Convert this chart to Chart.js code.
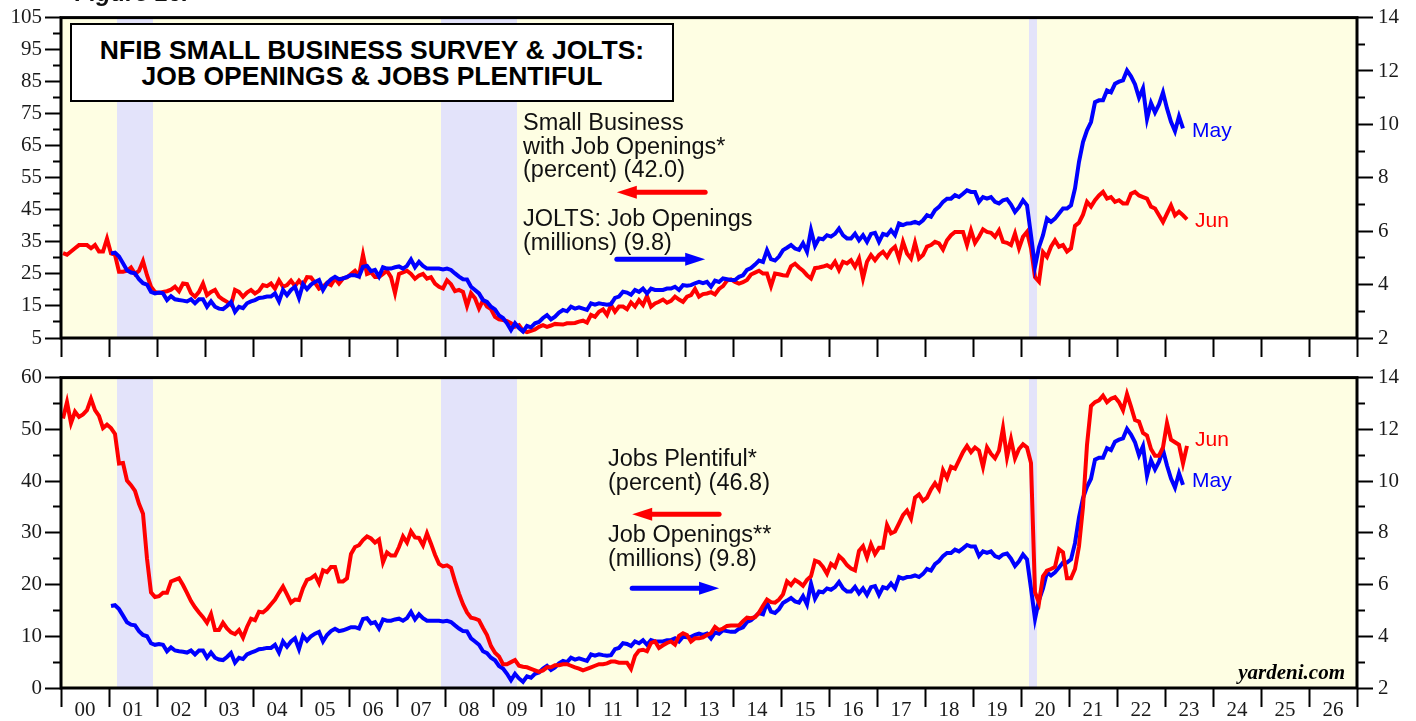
<!DOCTYPE html>
<html>
<head>
<meta charset="utf-8">
<script src="https://cdn.jsdelivr.net/npm/chart.js@4.4.0/dist/chart.umd.min.js"></script>
<style>
  body { margin: 0; background: #fff; width: 1416px; height: 721px; position: relative; overflow: hidden;
         font-family: "Liberation Sans", Arial, sans-serif; }
  canvas { position: absolute; left: 0; }
  #topChart { top: 0; }
  #bottomChart { top: 360px; }
  .txt { position: absolute; white-space: nowrap; }
  .note { font-size: 23.5px; line-height: 23.5px; color: #111; }
  .end { font-size: 21px; line-height: 21px; }
  #fig { left: 75px; top: -19px; font-size: 24px; line-height: 24px; font-weight: bold; font-style: italic; color: #111; }
  #title { left: 70px; top: 23px; width: 604px; height: 79px; box-sizing: border-box; border: 2px solid #000;
           background: #fff; text-align: center; font-weight: bold; font-size: 26.5px; line-height: 26px;
           padding-top: 12px; color: #000; }
  #src { right: 71px; top: 662px; font-family: "Liberation Serif", "Times New Roman", serif; font-weight: bold;
         font-style: italic; font-size: 21px; line-height: 21px; color: #000; }
</style>
</head>
<body>
<canvas id="topChart" width="1416" height="360"></canvas>
<canvas id="bottomChart" width="1416" height="361"></canvas>

<div class="txt" id="fig">Figure 16.</div>
<div class="txt" id="title">NFIB SMALL BUSINESS SURVEY &amp; JOLTS:<br>JOB OPENINGS &amp; JOBS PLENTIFUL</div>
<div class="txt note" style="left:523px; top:111px;">Small Business<br>with Job Openings*<br>(percent) (42.0)</div>
<div class="txt note" style="left:523px; top:207px;">JOLTS: Job Openings<br>(millions) (9.8)</div>
<div class="txt note" style="left:608px; top:447px;">Jobs Plentiful*<br>(percent) (46.8)</div>
<div class="txt note" style="left:608px; top:523px;">Job Openings**<br>(millions) (9.8)</div>
<div class="txt end" style="left:1192px; top:119px; color:#0000ff;">May</div>
<div class="txt end" style="left:1195px; top:209px; color:#ff0000;">Jun</div>
<div class="txt end" style="left:1195px; top:428px; color:#ff0000;">Jun</div>
<div class="txt end" style="left:1192px; top:469px; color:#0000ff;">May</div>
<div class="txt" id="src">yardeni.com</div>

<script>
// monthly, Jan 2000 - Jun 2023 (percent)
const nfibOpenings = [
  31.5, 31, 32, 33, 34, 34, 34, 33, 34, 32, 32, 36,
  31.4, 31, 25.7, 25.7, 26, 27, 25, 26, 29, 24.6, 21, 19.4,
  19.1, 19.4, 19.6, 20.1, 21, 19.6, 22, 21.8, 19, 17.9, 19.4, 22,
  18.4, 19.4, 20, 17.9, 17, 16.3, 15.3, 20, 19.4, 17.9, 19.2, 20,
  18.9, 19.7, 21.5, 21.2, 22, 20.4, 23, 21, 21.5, 22.9, 21.2, 22.9,
  21.5, 24, 23.9, 22.2, 20.4, 21, 22.2, 21.5, 23.6, 22, 23.6, 23.9,
  25, 26, 24.5, 31, 25, 25.5, 24, 24, 25, 26, 24, 19,
  25, 25.5, 26, 25, 23.5, 24.5, 25, 23.5, 24, 22, 21, 20.5,
  23, 21.8, 19.6, 20, 19.4, 15, 19, 17.4, 14.2, 16.8, 14.8, 14,
  11.6, 10.8, 10.6, 10.3, 9.6, 8.5, 9, 7.3, 6.8, 7.2, 7.7, 8.5,
  9, 8.5, 8.9, 9.4, 9.3, 9.2, 9.6, 9.6, 9.7, 10.1, 10.4, 9.8,
  12.2, 11.6, 13.2, 13.9, 12.2, 15.3, 13.2, 14.8, 14.8, 14, 16.1, 14.8,
  16.8, 15.3, 18.1, 14.8, 15.8, 16.3, 17, 16, 16.6, 17.9, 17, 16.3,
  17.9, 18.4, 20.3, 17.9, 18.7, 18.9, 19.3, 18.6, 20.3, 21.2, 22.9, 23.3,
  22.5, 22, 22.4, 23.1, 24.8, 25.4, 26, 25.1, 25.1, 21.2, 25.1, 24.9,
  24.6, 24.5, 27.4, 28.2, 27, 26, 24.6, 23.6, 26.8, 27, 27.3, 27.7,
  27, 28.8, 26.2, 28.8, 28.3, 29.3, 27.2, 29.8, 23.6, 28.8, 30.9, 29.3,
  30.9, 31.9, 30.3, 32.4, 33.5, 29.8, 35, 31.4, 29.8, 34.7, 29.8, 30.9,
  33.5, 34, 35, 34.5, 32.6, 35.5, 37.1, 38.1, 38.1, 38.1, 34, 38.6,
  34.7, 36.6, 38.9, 38.1, 37.8, 36.6, 38.6, 35, 34.7, 34, 37.6, 33,
  36.6, 38.1, 33, 24, 22.6, 31.8, 30.3, 33.5, 35.5, 33.5, 34, 32,
  33, 40, 41, 43.5, 47.5, 46, 48, 49.5, 50.6, 48.5, 49, 47.5,
  48, 47, 47, 50, 50.6, 49.5, 49, 48.5, 46, 45.4, 43.3, 41.2,
  43.8, 46.4, 43.3, 44.4, 43.3, 42
];

// monthly, Jan 2001 - May 2023 (millions)
const joltsOpenings = [
  5.17, 5.2, 5.05, 4.8, 4.54, 4.45, 4.42, 4.2, 4.05, 4.0, 3.73, 3.67,
  3.7, 3.67, 3.42, 3.57, 3.45, 3.42, 3.4, 3.37, 3.45, 3.3, 3.45, 3.45,
  3.17, 3.37, 3.17, 3.1, 3.08, 3.2, 3.35, 2.98, 3.17, 3.12, 3.3, 3.37,
  3.42, 3.5, 3.52, 3.55, 3.55, 3.67, 3.37, 3.8, 3.6, 3.8, 3.92, 3.5,
  4.02, 3.83, 4.0, 4.1, 4.17, 3.8, 4.05, 4.2, 4.29, 4.2, 4.23, 4.29,
  4.35, 4.35, 4.3, 4.67, 4.7, 4.5, 4.55, 4.3, 4.65, 4.6, 4.6, 4.65,
  4.68, 4.6, 4.7, 4.94, 4.65, 4.85, 4.7, 4.6, 4.6, 4.6, 4.6, 4.57,
  4.6, 4.55, 4.42, 4.3, 4.2, 4.19, 3.92, 3.8, 3.67, 3.42, 3.35, 3.17,
  3.07, 2.85, 2.75, 2.55, 2.3, 2.55, 2.37, 2.24, 2.45, 2.4, 2.55, 2.6,
  2.75, 2.86, 2.7, 2.8, 2.95, 3.05, 3.0, 3.17, 3.1, 3.15, 3.1, 3.05,
  3.3, 3.25, 3.3, 3.27, 3.25, 3.27, 3.5, 3.55, 3.73, 3.7, 3.62, 3.8,
  3.73, 3.85, 3.67, 3.85, 3.8, 3.8, 3.8, 3.85, 3.85, 3.92, 3.8, 3.98,
  3.96, 3.98, 4.05, 4.1, 4.05, 4.1, 3.92, 4.15, 4.1, 4.23, 4.2, 4.17,
  4.17, 4.29, 4.35, 4.55, 4.62, 4.75, 4.9, 4.85, 5.29, 4.95, 4.9, 5.05,
  5.29, 5.38, 5.48, 5.35, 5.3, 5.55, 5.23, 6.04, 5.45, 5.73, 5.7, 5.85,
  5.8, 5.9, 6.1, 5.85, 5.73, 5.73, 5.91, 5.66, 5.85, 5.6, 5.9, 5.94,
  5.6, 5.9, 5.85, 6.04, 5.85, 6.29, 6.23, 6.29, 6.3, 6.35, 6.29, 6.41,
  6.6, 6.54, 6.79, 6.91, 7.1, 7.22, 7.22, 7.35, 7.28, 7.4, 7.53, 7.47,
  7.47, 7.1, 7.28, 7.22, 7.28, 7.1, 7.04, 7.16, 7.2, 7.0, 6.72, 6.9,
  7.16, 6.97, 5.85, 4.67, 5.4, 5.85, 6.47, 6.35, 6.47, 6.66, 6.85, 6.85,
  6.97, 7.6, 8.6, 9.34, 9.78, 10.09, 10.83, 10.9, 10.9, 11.27, 11.2, 11.52,
  11.6, 11.65, 12.02, 11.8, 11.5, 11.0, 11.35, 10.2, 10.8, 10.45, 10.75, 11.2,
  10.6, 10.1, 9.75, 10.3, 9.85
];

// monthly, Jan 2000 - Jun 2023 (percent)
const jobsPlentiful = [
  52.1, 55.25, 51.2, 53.4, 52.4, 52.9, 53.7, 55.9, 53.7, 52.6, 50.25, 50.9,
  50.25, 49.1, 43.4, 43.5, 40.1, 39.2, 38.1, 35.6, 33.7, 25, 18.5, 17.6,
  17.75, 18.4, 18.4, 20.6, 20.9, 21.2, 19.9, 18.4, 16.8, 15.6, 14.6, 13.7,
  12.6, 14.3, 11.2, 11.2, 12.6, 11.5, 10.75, 10.4, 11.2, 9.75, 11.8, 13.4,
  13.1, 14.75, 14.6, 15.25, 16.2, 17.1, 18.4, 19.6, 18.1, 16.5, 17.1, 17,
  19.3, 20.9, 21.2, 21.8, 20.25, 22.75, 22.4, 23.4, 23.4, 20.6, 20.6, 21.2,
  25.9, 27.25, 27.6, 28.6, 29.3, 28.9, 28.1, 28.7, 24.3, 26.2, 25.6, 25.6,
  27.25, 29.3, 28.1, 30.25, 29.1, 29, 27.6, 29.9, 27.9, 25.75, 24, 23.5,
  23.7, 23.25, 20.6, 18.25, 16.2, 14.6, 13.6, 13.4, 13.1, 11.6, 10.25, 8.1,
  6.8, 6.1, 4.6, 4.6, 5, 5.4, 4.3, 4.1, 4, 3.7, 3.4, 3.1,
  3.4, 4, 4, 4.4, 4.4, 4.6, 4.6, 4.3, 4, 3.75, 3.4, 3.7,
  4, 4.3, 4.6, 4.6, 4.75, 5.1, 5.1, 4.9, 4.9, 4.9, 3.7, 6.2,
  7.25, 7.4, 7.1, 8.7, 9, 7.75, 8.25, 8.7, 9, 8.4, 10.1, 10.6,
  10.25, 9, 9.6, 9.6, 9.8, 10.25, 10.6, 11.8, 11.2, 11.5, 12, 12.1,
  12.1, 12.1, 12.9, 13.6, 13.5, 13.7, 14.6, 15.9, 17.1, 16.6, 16.5, 17.1,
  18.1, 20.6, 19.9, 20.9, 20.4, 19.75, 20.9, 21.6, 24.6, 24.3, 23.4, 22.1,
  24, 23.4, 25.5, 24.8, 23.75, 23.1, 22.75, 26.5, 27.4, 25.25, 27.75, 25.9,
  27.1, 27.1, 31.5, 29.9, 30.25, 31.8, 33.4, 34.3, 32.75, 36.8, 37.4, 36.2,
  36.8, 38.4, 39.6, 38.4, 42.1, 40.6, 42.75, 42.4, 44, 45.6, 46.8, 45.6,
  46.5, 45.9, 42.75, 46.5, 45.25, 44.4, 45.9, 50.25, 44.6, 48.1, 44.4, 46.2,
  47.1, 46.5, 43.5, 18.5, 16.5, 21.6, 22.7, 23, 23.4, 26.8, 26.2, 21.2,
  21.2, 23, 27.4, 35, 47, 54.5, 55.25, 55.6, 56.5, 55.25, 55.9, 56.2,
  55.25, 53.7, 56.8, 54.4, 51.8, 51.5, 49.3, 48.8, 46.2, 44.9, 44.9, 46.5,
  51.2, 48, 47.5, 47, 43.4, 46.8
];

const yearLabels = ['00','01','02','03','04','05','06','07','08','09','10','11','12','13',
                    '14','15','16','17','18','19','20','21','22','23','24','25','26'];
const topLeftTicks = [5, 15, 25, 35, 45, 55, 65, 75, 85, 95, 105];
const bottomLeftTicks = [0, 10, 20, 30, 40, 50, 60];
const rightTicks = [2, 4, 6, 8, 10, 12, 14];

// recession periods (decimal years)
const recessions = [[2001.167, 2001.917], [2007.917, 2009.5], [2020.167, 2020.333]];

const RED = '#ff0000';
const BLUE = '#0000ff';
const tickFont = { family: "'Liberation Serif', 'Times New Roman', serif", size: 21 };

function toPoints(startYear, values) {
  return values.map((v, i) => ({ x: startYear + (i + 0.5) / 12, y: v }));
}

function drawArrow(ctx, tail, tip, y, color) {
  const dir = Math.sign(tip - tail), head = 20;
  ctx.save();
  ctx.strokeStyle = color;
  ctx.fillStyle = color;
  ctx.lineWidth = 5;
  ctx.lineCap = 'round';
  ctx.beginPath();
  ctx.moveTo(tail, y);
  ctx.lineTo(tip - dir * head, y);
  ctx.stroke();
  ctx.beginPath();
  ctx.moveTo(tip, y);
  ctx.lineTo(tip - dir * head, y - 6.5);
  ctx.lineTo(tip - dir * head, y + 6.5);
  ctx.closePath();
  ctx.fill();
  ctx.restore();
}

const panel = {
  id: 'panel',
  beforeDraw(chart) {
    const { ctx, chartArea: a, scales: { x } } = chart;
    ctx.save();
    ctx.fillStyle = '#fefee3';
    ctx.fillRect(a.left, a.top, a.width, a.height);
    ctx.fillStyle = '#e3e3fa';
    recessions.forEach(([s, e]) => {
      const x0 = x.getPixelForValue(s);
      const x1 = x.getPixelForValue(e);
      ctx.fillRect(x0, a.top, x1 - x0, a.height);
    });
    ctx.restore();
  },
  afterDatasetsDraw(chart, args, opts) {
    const { ctx, chartArea: a, scales: { x, y } } = chart;
    ctx.save();
    ctx.strokeStyle = '#000';
    ctx.lineWidth = 3;
    ctx.strokeRect(a.left, a.top, a.width, a.height);
    ctx.restore();
    (opts.arrows || []).forEach(ar => {
      drawArrow(ctx, x.getPixelForValue(ar.tail), x.getPixelForValue(ar.tip), y.getPixelForValue(ar.y), ar.color);
    });
  }
};

function yAxis(position, min, max, step, majors, width) {
  const isMajor = v => majors.includes(v);
  return {
    type: 'linear',
    position: position,
    min: min,
    max: max,
    afterBuildTicks: s => {
      const t = [];
      for (let v = min; v <= max; v += step) t.push({ value: v });
      s.ticks = t;
    },
    afterFit: s => { s.width = width; },
    border: { display: false },
    grid: {
      drawOnChartArea: false,
      drawTicks: true,
      tickLength: 16,
      tickWidth: 2,
      tickColor: '#000',
      tickBorderDash: c => (c.tick && isMajor(c.tick.value)) ? [] :
        (position === 'left' ? [0, 8, 8, 100] : [8, 100])
    },
    ticks: {
      autoSkip: false,
      font: tickFont,
      color: '#1a1a1a',
      padding: position === 'left' ? 3 : 5,
      callback: v => isMajor(v) ? String(v) : ''
    }
  };
}

function xAxis(withLabels, height) {
  return {
    type: 'linear',
    position: 'bottom',
    min: 2000,
    max: 2027,
    afterBuildTicks: s => {
      const t = [];
      for (let v = 2000; v <= 2027; v += withLabels ? 0.5 : 1) t.push({ value: v });
      s.ticks = t;
    },
    afterFit: s => { s.height = height; },
    border: { display: false },
    grid: {
      drawOnChartArea: false,
      drawTicks: true,
      tickLength: 19,
      tickWidth: 2,
      tickColor: c => (c.tick && c.tick.value % 1 !== 0) ? 'rgba(0,0,0,0)' : '#000'
    },
    ticks: {
      display: withLabels,
      autoSkip: false,
      maxRotation: 0,
      minRotation: 0,
      font: tickFont,
      color: '#1a1a1a',
      padding: -9,
      callback: v => (v % 1 !== 0) ? yearLabels[Math.floor(v) - 2000] : ''
    }
  };
}

const common = {
  responsive: false,
  animation: false,
  devicePixelRatio: 1,
  elements: { point: { radius: 0 }, line: { borderWidth: 4, tension: 0 } }
};

new Chart(document.getElementById('topChart').getContext('2d'), {
  type: 'line',
  data: {
    datasets: [
      { label: 'JOLTS: Job Openings', data: toPoints(2001, joltsOpenings), borderColor: BLUE, yAxisID: 'y1' },
      { label: 'Small Business with Job Openings', data: toPoints(2000, nfibOpenings), borderColor: RED, yAxisID: 'y' }
    ]
  },
  options: {
    ...common,
    layout: { padding: { top: 17 } },
    scales: {
      x: xAxis(false, 22),
      y: yAxis('left', 5, 105, 5, topLeftTicks, 61),
      y1: yAxis('right', 2, 14, 1, rightTicks, 59)
    },
    plugins: {
      legend: { display: false },
      tooltip: { enabled: false },
      panel: {
        arrows: [
          { tail: 2013.42, tip: 2011.58, y: 50.5, color: RED },
          { tail: 2011.58, tip: 2013.42, y: 29.6, color: BLUE }
        ]
      }
    }
  },
  plugins: [panel]
});

new Chart(document.getElementById('bottomChart').getContext('2d'), {
  type: 'line',
  data: {
    datasets: [
      { label: 'Jobs Plentiful', data: toPoints(2000, jobsPlentiful), borderColor: RED, yAxisID: 'y' },
      { label: 'Job Openings', data: toPoints(2001, joltsOpenings), borderColor: BLUE, yAxisID: 'y1' }
    ]
  },
  options: {
    ...common,
    layout: { padding: { top: 8 } },
    scales: {
      x: xAxis(true, 33),
      y: yAxis('left', 0, 60, 5, bottomLeftTicks, 61),
      y1: yAxis('right', 2, 14, 1, rightTicks, 59)
    },
    plugins: {
      legend: { display: false },
      tooltip: { enabled: false },
      panel: {
        arrows: [
          { tail: 2013.71, tip: 2011.9, y: 33.6, color: RED },
          { tail: 2011.9, tip: 2013.71, y: 19.3, color: BLUE }
        ]
      }
    }
  },
  plugins: [panel]
});
</script>
</body>
</html>
